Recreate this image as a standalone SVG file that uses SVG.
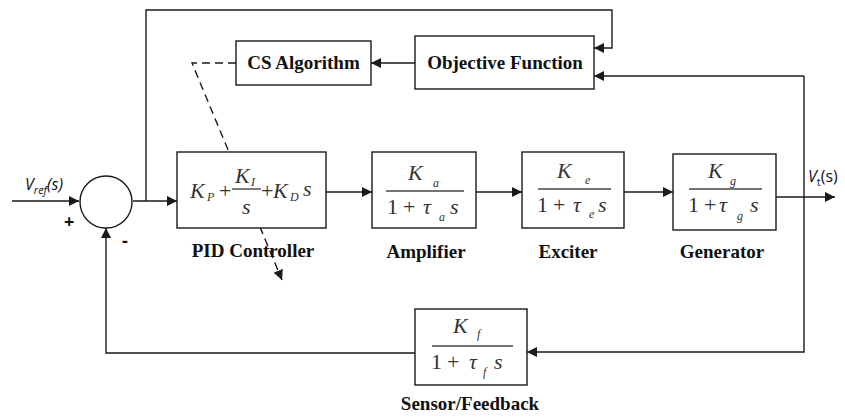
<svg xmlns="http://www.w3.org/2000/svg" width="845" height="418" viewBox="0 0 845 418">
<defs>
<marker id="ah" viewBox="0 0 10 10" refX="10" refY="5" markerWidth="10" markerHeight="10" markerUnits="userSpaceOnUse" orient="auto">
<path d="M0,0 L10,5 L0,10 z" fill="#1a1a1a"/>
</marker>
<style>
.ln{stroke:#1a1a1a;stroke-width:1.4;fill:none}
.bx{stroke:#1a1a1a;stroke-width:1.4;fill:#fff}
.fr{stroke:#444;stroke-width:1.4}
.lbl{font-family:'Liberation Serif','Times New Roman',serif;font-weight:bold;font-size:19px;fill:#111;text-anchor:middle}
.m{font-family:'Liberation Serif','Times New Roman',serif;font-style:italic;font-size:22px;fill:#333}
.mu{font-family:'Liberation Serif','Times New Roman',serif;font-size:22px;fill:#333}
.s{font-family:'Liberation Serif','Times New Roman',serif;font-style:italic;font-size:12px;fill:#333}
.sig{font-family:'Open Sans','DejaVu Sans',sans-serif;font-size:16px;fill:#111}
.pm{font-family:'Open Sans','DejaVu Sans',sans-serif;font-size:18px;font-weight:bold;fill:#111}
</style>
</defs>
<g id="connectors">
<line class="ln" x1="12" y1="201" x2="79" y2="201" marker-end="url(#ah)"/>
<line class="ln" x1="133" y1="201" x2="177" y2="201" marker-end="url(#ah)"/>
<polyline class="ln" points="146,201 146,10 612,10 612,48 594,48" marker-end="url(#ah)"/>
<line class="ln" x1="415" y1="63" x2="371" y2="63" marker-end="url(#ah)"/>
<line class="ln" x1="326" y1="192" x2="372" y2="192" marker-end="url(#ah)"/>
<line class="ln" x1="476" y1="192" x2="522" y2="192" marker-end="url(#ah)"/>
<line class="ln" x1="624" y1="192" x2="673" y2="192" marker-end="url(#ah)"/>
<line class="ln" x1="773" y1="197" x2="835" y2="197" marker-end="url(#ah)"/>
<polyline class="ln" points="804,76 804,352 527,352" marker-end="url(#ah)"/>
<line class="ln" x1="804" y1="76" x2="594" y2="76" marker-end="url(#ah)"/>
<polyline class="ln" points="415,353 106,353 106,228" marker-end="url(#ah)"/>
<polyline class="ln" points="236,63 192,63 282,280" stroke-dasharray="8,5" marker-end="url(#ah)"/>
</g>
<g id="sum">
<circle class="bx" cx="106" cy="202" r="26"/>
<text class="sig" x="25" y="190" font-style="italic">V<tspan dy="4" font-size="11">ref</tspan><tspan dy="-4">(s)</tspan></text>
<text class="pm" x="64" y="228">+</text>
<text class="pm" x="122" y="247">-</text>
</g>
<g id="cs">
<rect class="bx" x="236" y="41" width="135" height="44"/>
<text class="lbl" x="303.5" y="69">CS Algorithm</text>
</g>
<g id="objective">
<rect class="bx" x="415" y="36" width="179" height="53"/>
<text class="lbl" x="505" y="69">Objective Function</text>
</g>
<g id="pid">
<rect class="bx" x="177" y="152" width="149" height="76"/>
<text class="m" x="190" y="198">K</text>
<text class="s" x="207" y="201" font-size="13">P</text>
<text class="mu" x="219" y="198" font-size="18" fill="#777">+</text>
<text class="m" x="235" y="183">K</text>
<text class="s" x="251" y="186" font-size="13">I</text>
<line class="fr" x1="232" y1="189" x2="261" y2="189"/>
<text class="m" x="242" y="214">s</text>
<text class="mu" x="261" y="198" font-size="18" fill="#777">+</text>
<text class="m" x="273" y="198">K</text>
<text class="s" x="290" y="201" font-size="13">D</text>
<text class="m" x="303" y="196">s</text>
<text class="lbl" x="253" y="257">PID Controller</text>
</g>
<g id="amplifier">
<rect class="bx" x="372" y="152" width="104" height="76"/>
<text class="m" x="408" y="180">K</text>
<text class="s" x="433" y="187">a</text>
<line class="fr" x1="386" y1="191" x2="464" y2="191"/>
<text class="mu" x="387" y="214">1</text>
<text class="mu" x="403" y="214" font-size="19">+</text>
<text class="m" x="423" y="214">τ</text>
<text class="s" x="439" y="221">a</text>
<text class="m" x="450" y="214">s</text>
<text class="lbl" x="426" y="258">Amplifier</text>
</g>
<g id="exciter">
<rect class="bx" x="522" y="152" width="102" height="76"/>
<text class="m" x="557" y="178">K</text>
<text class="s" x="585" y="184" font-size="9">e</text>
<line class="fr" x1="538" y1="189" x2="611" y2="189"/>
<text class="mu" x="537" y="212">1</text>
<text class="mu" x="553" y="212" font-size="19">+</text>
<text class="m" x="573" y="212">τ</text>
<text class="s" x="589" y="218" font-size="9">e</text>
<text class="m" x="598" y="212">s</text>
<text class="lbl" x="568" y="258">Exciter</text>
</g>
<g id="generator">
<rect class="bx" x="673" y="154" width="103" height="76"/>
<text class="m" x="708" y="178">K</text>
<text class="s" x="730" y="185" font-size="10">g</text>
<line class="fr" x1="689" y1="189" x2="762" y2="189"/>
<text class="mu" x="688" y="212">1</text>
<text class="mu" x="704" y="212" font-size="19">+</text>
<text class="m" x="719" y="212">τ</text>
<text class="s" x="737" y="220" font-size="10">g</text>
<text class="m" x="750" y="212">s</text>
<text class="lbl" x="722" y="258">Generator</text>
<text class="sig" x="808" y="182" font-style="italic">V<tspan dy="4" font-size="11" font-style="normal">t</tspan><tspan dy="-4" font-style="normal">(s)</tspan></text>
</g>
<g id="feedback">
<rect class="bx" x="415" y="309" width="112" height="76"/>
<text class="m" x="453" y="333">K</text>
<text class="s" x="477" y="338" font-size="10">f</text>
<line class="fr" x1="432" y1="346" x2="513" y2="346"/>
<text class="mu" x="431" y="369">1</text>
<text class="mu" x="447" y="369" font-size="19">+</text>
<text class="m" x="469" y="369">τ</text>
<text class="s" x="483" y="376" font-size="10">f</text>
<text class="m" x="494" y="369">s</text>
<text class="lbl" x="470" y="410">Sensor/Feedback</text>
</g>
</svg>
